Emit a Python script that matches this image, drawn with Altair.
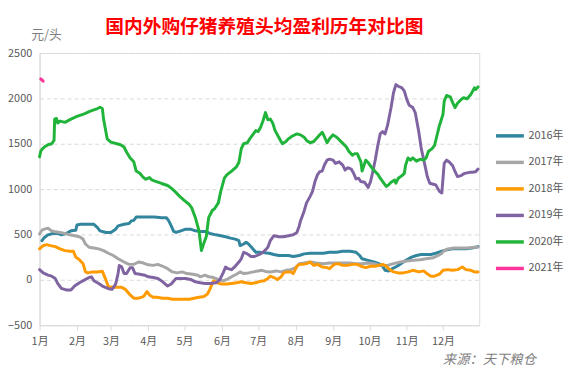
import json
import altair as alt
import pandas as pd

years = ["2016年", "2017年", "2018年", "2019年", "2020年", "2021年"]
colors = ["#31859C", "#A6A6A6", "#FF9A00", "#8064A2", "#21B43B", "#FF3399"]
month_labels = [f"{m}月" for m in range(1, 13)]
y_ticks = [-500, 0, 500, 1000, 1500, 2000, 2500]

# (day of year offset, 元/头)
s2016 = [(2,431),(4,467),(7,496),(11,511),(15,511),(18,496),(22,511),(26,540),(30,547),(31,605),(34,612),(38,612),
         (45,612),(48,576),(50,540),(55,522),(59,522),(63,558),(65,594),(70,612),(74,620),(76,649),(78,656),(80,692),
         (84,692),(89,692),(95,692),(101,685),(105,685),(107,649),(109,594),(111,533),(113,522),(117,540),(121,558),
         (125,558),(129,540),(133,533),(137,533),(141,511),(146,496),(150,486),(154,475),(158,460),(162,449),(165,431),
         (166,377),(169,395),(171,413),(173,395),(176,351),(179,304),(182,304),(185,300),(190,293),(194,279),(198,268),
         (202,268),(206,268),(210,257),(215,268),(219,286),(224,293),(229,293),(235,293),(240,304),(246,304),(251,315),
         (257,315),(262,304),(265,268),(267,232),(272,214),(276,200),(281,178),(284,149),(286,105),(289,98),(292,123),
         (296,149),(300,185),(304,221),(308,250),(312,268),(316,279),(320,279),(324,279),(328,293),(333,315),(337,330),
         (342,341),(347,341),(353,341),(358,351),(363,366)]
s2017 = [(0,504),(2,547),(4,558),(7,569),(10,540),(12,533),(17,522),(21,511),(25,496),(29,486),(33,475),(36,449),
         (38,395),(41,359),(45,351),(49,341),(53,322),(57,293),(61,268),(65,232),(70,196),(74,170),(78,170),(82,196),
         (86,185),(90,165),(94,159),(98,170),(102,149),(106,123),(110,87),(114,76),(118,87),(122,69),(127,62),(131,51),
         (133,33),(137,51),(140,33),(144,25),(148,4),(152,-11),(155,4),(159,33),(163,62),(166,87),(169,69),(173,76),
         (177,87),(181,98),(184,105),(187,92),(191,87),(196,98),(200,87),(204,105),(208,112),(212,134),(215,178),
         (219,185),(224,196),(229,185),(235,178),(240,185),(246,185),(251,185),(257,185),(262,178),(267,178),(273,185),
         (277,178),(282,159),(288,159),(293,178),(299,196),(304,207),(309,214),(315,221),(320,232),(326,243),(330,268),
         (333,293),(335,322),(338,341),(343,351),(349,351),(354,351),(360,359),(363,359)]
s2018 = [(0,341),(3,377),(6,388),(9,377),(13,366),(17,341),(21,322),(25,315),(28,315),(30,250),(33,221),(36,178),
         (38,87),(40,76),(44,87),(48,87),(52,94),(55,-4),(57,-76),(61,-83),(65,-83),(68,-83),(71,-105),(75,-167),
         (78,-203),(82,-203),(86,-185),(89,-130),(91,-167),(94,-192),(97,-192),(102,-203),(106,-203),(110,-214),
         (116,-214),(120,-214),(124,-214),(128,-203),(132,-192),(136,-185),(139,-156),(141,-105),(143,-40),(144,-11),
         (147,-33),(151,-47),(155,-47),(159,-40),(163,-33),(167,-22),(171,-33),(175,-40),(179,-33),(183,-15),(186,-11),
         (189,14),(191,40),(194,25),(197,4),(200,33),(202,76),(205,87),(208,87),(210,69),(213,149),(215,170),(218,170),
         (221,178),(224,196),(227,159),(230,170),(234,141),(238,134),(240,123),(244,170),(247,178),(251,159),(255,159),
         (259,170),(263,170),(266,149),(270,134),(274,149),(278,149),(281,159),(284,170),(286,159),(289,123),(293,87),
         (297,76),(301,76),(305,87),(309,105),(314,87),(318,98),(320,76),(324,40),(327,40),(331,62),(334,105),(338,112),
         (342,105),(346,112),(350,141),(353,112),(357,105),(360,87),(363,87)]
s2019 = [(0,112),(3,76),(7,51),(10,40),(13,14),(15,-40),(18,-94),(22,-112),(26,-112),(29,-69),(33,-33),(37,-4),
         (41,25),(43,33),(45,-11),(49,-40),(53,-76),(57,-98),(60,-105),(63,-47),(65,69),(66,159),(68,141),(70,69),
         (72,69),(75,134),(77,134),(79,69),(83,62),(87,51),(90,33),(94,25),(98,14),(102,-22),(106,-69),(109,-47),
         (113,14),(117,14),(121,14),(125,4),(129,-22),(133,-33),(137,-40),(141,-40),(146,-33),(149,-4),(152,76),
         (154,141),(156,123),(159,112),(162,149),(165,196),(167,232),(169,304),(172,286),(175,257),(178,257),(182,279),
         (185,304),(187,330),(189,359),(191,431),(194,486),(198,475),(202,475),(206,486),(210,496),(213,522),(215,594),
         (216,649),(219,757),(221,848),(224,920),(226,975),(228,1083),(230,1156),(232,1192),(234,1199),(236,1272),
         (238,1319),(240,1330),(243,1319),(245,1283),(248,1301),(251,1264),(253,1210),(255,1236),(258,1221),(260,1174),
         (262,1112),(264,1120),(266,1083),(269,1076),(272,1018),(274,1083),(276,1200),(278,1330),(280,1480),(282,1609),
         (284,1634),(286,1609),(288,1699),(291,1899),(293,2062),(295,2152),(297,2134),(300,2116),(302,2080),(304,1989),
         (306,1924),(309,1899),(311,1844),(314,1627),(316,1446),(319,1264),(321,1138),(323,1065),(326,1054),(328,1047),
         (331,975),(333,957),(334,1120),(335,1283),(337,1319),(339,1301),(342,1257),(344,1192),(346,1138),(349,1149),
         (352,1174),(356,1185),(358,1185),(361,1192),(363,1221)]
s2020 = [(0,1355),(1,1417),(2,1438),(4,1464),(7,1489),(10,1500),(12,1536),(12.5,1772),(14,1779),(15,1728),(17,1750),
         (21,1736),(26,1772),(31,1801),(37,1830),(42,1859),(48,1888),(50,1902),(52,1888),(53,1772),(54,1699),(56,1554),
         (59,1518),(64,1500),(67,1489),(70,1464),(72,1409),(75,1344),(78,1301),(80,1199),(83,1174),(86,1127),(88,1109),
         (91,1127),(93,1101),(95,1091),(101,1062),(106,1040),(109,1011),(112,975),(116,920),(120,873),(124,830),
         (126,793),(129,685),(132,540),(134,322),(136,402),(138,475),(140,685),(143,764),(145,786),(148,848),(150,975),
         (153,1120),(155,1156),(159,1199),(163,1246),(165,1293),(167,1446),(169,1500),(172,1511),(174,1554),(177,1609),
         (179,1645),(181,1634),(183,1681),(185,1754),(187,1844),(189,1764),(191,1772),(193,1728),(195,1645),(198,1572),
         (201,1500),(204,1525),(206,1554),(209,1583),(213,1609),(216,1598),(219,1572),(221,1536),(224,1511),(227,1525),
         (229,1554),(232,1598),(234,1627),(236,1572),(238,1511),(240,1554),(243,1598),(246,1572),(250,1518),(254,1464),
         (256,1417),(259,1373),(261,1391),(263,1391),(266,1301),(267,1199),(270,1319),(272,1293),(275,1236),(278,1192),
         (280,1163),(282,1120),(285,1065),(287,1029),(289,1047),(291,1076),(294,1101),(295,1065),(297,1120),(300,1149),
         (302,1174),(303,1264),(305,1344),(307,1319),(309,1344),(312,1308),(315,1330),(318,1319),(320,1344),(322,1417),
         (325,1446),(327,1482),(329,1591),(331,1699),(334,1826),(335,1971),(337,2033),(340,2018),(342,1953),(344,1899),
         (346,1946),(349,1989),(351,2007),(354,1996),(357,2043),(360,2116),(361,2098),(363,2127)]
s2021 = [(1,2215),(3,2190)]

series = [s2016, s2017, s2018, s2019, s2020, s2021]

base = pd.Timestamp("2021-01-01")
rows = []
for name, s in zip(years, series):
    for d, v in s:
        rows.append({"year": name, "date": base + pd.Timedelta(days=d), "value": v})
df = pd.DataFrame(rows)

label_expr = json.dumps(month_labels, ensure_ascii=False) + "[month(datum.value)]"

chart = alt.Chart(df).mark_line(strokeWidth=3, strokeJoin="round", strokeCap="round").encode(
    x=alt.X("date:T",
            scale=alt.Scale(domain=[alt.DateTime(year=2021, month=1, date=1),
                                    alt.DateTime(year=2021, month=12, date=31)]),
            axis=alt.Axis(values=[alt.DateTime(year=2021, month=m, date=1) for m in range(1, 13)],
                          labelExpr=label_expr, labelFlush=False, grid=False,
                          domainColor="#D9D9D9", tickColor="#D9D9D9", tickSize=5,
                          labelPadding=6, labelColor="#595959", labelFontSize=11,
                          labelFont="Noto Sans CJK SC",
                          title="来源：天下粮仓", titleFontStyle="italic", titleFontWeight="normal",
                          titleFont="Noto Sans CJK SC", titleFontSize=13.5, titleColor="#7F7F7F",
                          titleX=503, titleY=35, titleAlign="right", titleBaseline="middle")),
    y=alt.Y("value:Q",
            scale=alt.Scale(domain=[-500, 2500], nice=False),
            axis=alt.Axis(values=y_ticks, format="d", grid=True, gridColor="#D9D9D9", gridDash=[4, 3],
                          ticks=False, domainColor="#D9D9D9", labelPadding=8,
                          labelColor="#595959", labelFontSize=11, labelFont="Noto Sans CJK SC",
                          title="元/头", titleAngle=0, titleX=-9, titleY=-19, titleAlign="left",
                          titleBaseline="middle", titleFontWeight="normal", titleFontSize=13,
                          titleColor="#7F7F7F", titleFont="Noto Sans CJK SC")),
    color=alt.Color("year:N",
                    scale=alt.Scale(domain=years, range=colors),
                    legend=alt.Legend(title=None, orient="none", legendX=461, legendY=75,
                                      symbolType="M-1,0H3", symbolSize=200, symbolStrokeWidth=3.5,
                                      labelOffset=17, rowPadding=10.9, labelFontSize=11,
                                      labelColor="#595959", labelFont="Noto Sans CJK SC")),
).properties(
    width=446, height=276,
    padding={"left": 32, "top": 43, "right": 89, "bottom": 58},
    autosize=alt.AutoSizeParams(type="none"),
    title=alt.TitleParams("国内外购仔猪养殖头均盈利历年对比图", color="#FF0000", fontSize=19,
                          font="Noto Sans CJK SC", fontWeight="bold", anchor="middle",
                          offset=14, dx=5, dy=23),
).configure_view(stroke=None).configure(background="white")

chart.save("out.html", embed_options={"renderer": "svg", "actions": False})
